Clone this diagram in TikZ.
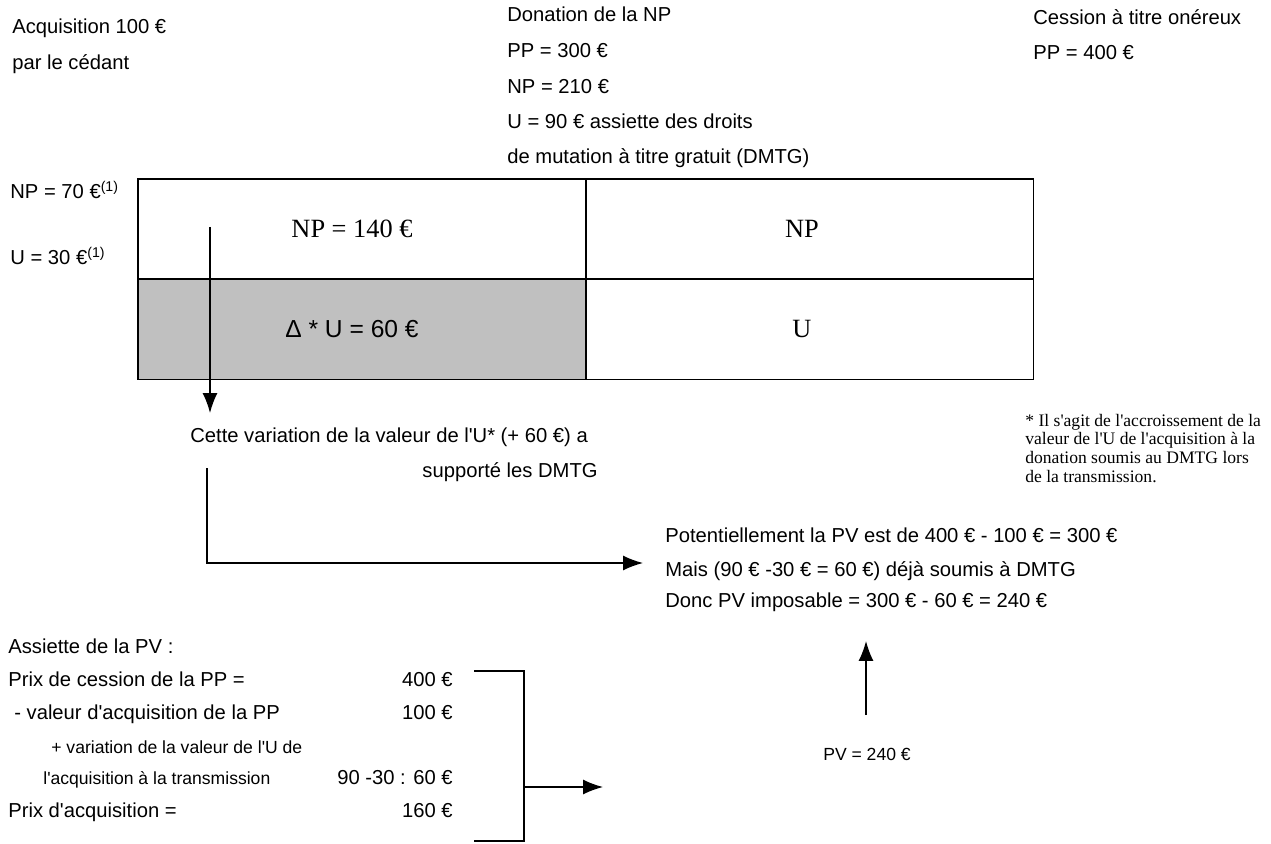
\documentclass[tikz,border=0pt]{standalone}
\usepackage{fontspec}
\newfontfamily\arial{Liberation Sans}
\newfontfamily\tnr{Liberation Serif}
\usetikzlibrary{arrows.meta}
\definecolor{cell-grey}{HTML}{C0C0C0}

\begin{document}
\begin{tikzpicture}[x=0.02cm, y=-0.02cm,
      every node/.style={font=\arial\fontsize{11.5}{13.8}\selectfont},
      lbl/.style={inner sep=0pt, anchor=base west},
      lbr/.style={inner sep=0pt, anchor=base east},
      small/.style={font=\arial\fontsize{10}{12}\selectfont},
      cell/.style={draw, line width=0.8pt, inner sep=0pt,
          minimum width=8.96cm, minimum height=2.0cm, font=\tnr\fontsize{15}{18}\selectfont},
      note/.style={inner sep=0pt, anchor=base west, font=\tnr\fontsize{10}{11}\selectfont},
      flow/.style={-{Latex[length=0.4cm, width=0.3cm]}, line width=0.8pt}]
    \useasboundingbox (0,0) rectangle (1271,844);
    % donnees en haut
    \node[lbl] (ACQ1) at (12,34) {Acquisition 100 €};
    \node[lbl] (ACQ2) at (12,70) {par le cédant};
    \node[lbl] (DON1) at (507,22) {Donation de la NP};
    \node[lbl] (DON2) at (507,58) {PP = 300 €};
    \node[lbl] (DON3) at (507,94) {NP = 210 €};
    \node[lbl] (DON4) at (507,129) {U = 90 € assiette des droits};
    \node[lbl] (DON5) at (507,164) {de mutation à titre gratuit (DMTG)};
    \node[lbl] (CES1) at (1033,25) {Cession à titre onéreux};
    \node[lbl] (CES2) at (1033,60) {PP = 400 €};
    \node[lbl] (NPA) at (10,199) {NP = 70 €\textsuperscript{(1)}};
    \node[lbl] (UA) at (10,265) {U = 30 €\textsuperscript{(1)}};
    % tableau
    \node[cell] (NPD) at (362,229) {\hspace*{-0.4cm}NP = 140 €};
    \node[cell, fill=cell-grey, font=\arial\fontsize{14}{17}\selectfont] (DU) at (362,329.5) {\hspace*{-0.4cm}Δ * U = 60 €};
    \node[cell] (NPC) at (809.5,229) {\hspace*{-0.3cm}NP};
    \node[cell] (UC) at (809.5,329.5) {\hspace*{-0.3cm}U};
    \coordinate (DS) at (210,227);
    \coordinate (DE) at (210,413);
    \draw[flow] (DS) -- (DE);
    \node[lbl] (VAR1) at (190,442) {Cette variation de la valeur de l'U* (+ 60 €) a};
    \node[lbr] (VAR2) at (598,477) {supporté les DMTG};
    \node[note] (FN1) at (1025,426) {* Il s'agit de l'accroissement de la};
    \node[note] (FN2) at (1025,444) {valeur de l'U de l'acquisition à la};
    \node[note] (FN3) at (1025,463) {donation soumis au DMTG lors};
    \node[note] (FN4) at (1025,482) {de la transmission.};
    % vers la PV
    \coordinate (LS) at (207,468);
    \coordinate (LE) at (643,563);
    \draw[flow] (LS) |- (LE);
    \node[lbl] (PV1) at (665,542) {Potentiellement la PV est de 400 € - 100 € = 300 €};
    \node[lbl] (PV2) at (665,576) {Mais (90 € -30 € = 60 €) déjà soumis à DMTG};
    \node[lbl] (PV3) at (665,607) {Donc PV imposable = 300 € - 60 € = 240 €};
    \node[inner sep=0pt, anchor=base, small] (PVF) at (867,760) {PV = 240 €};
    \coordinate (US) at (866,715);
    \coordinate (UE) at (866,641);
    \draw[flow] (US) -- (UE);
    % assiette
    \node[lbl] (AS0) at (8,653) {Assiette de la PV :};
    \node[lbl] (AS1) at (8,686) {Prix de cession de la PP =};
    \node[lbl] (AS2) at (14,719) {- valeur d'acquisition de la PP};
    \node[lbl, small] (AS3) at (51,753) {+ variation de la valeur de l'U de};
    \node[lbl, small] (AS4) at (43,784) {l'acquisition à la transmission};
    \node[lbl] (AS5) at (8,817) {Prix d'acquisition =};
    \node[lbr] (VA1) at (453,686) {400 €};
    \node[lbr] (VA2) at (453,719) {100 €};
    \node[lbr] (VA4) at (453,784) {90 -30 : 60 €};
    \node[lbr] (VA5) at (453,817) {160 €};
    \coordinate (BT) at (474,671);
    \coordinate (BK) at (524,787);
    \coordinate (BB) at (474,841);
    \coordinate (BE) at (603,787);
    \draw[line width=0.8pt] (BT) -| (BK) |- (BB);
    \draw[flow] (BK) -- (BE);
\end{tikzpicture}
\end{document}
